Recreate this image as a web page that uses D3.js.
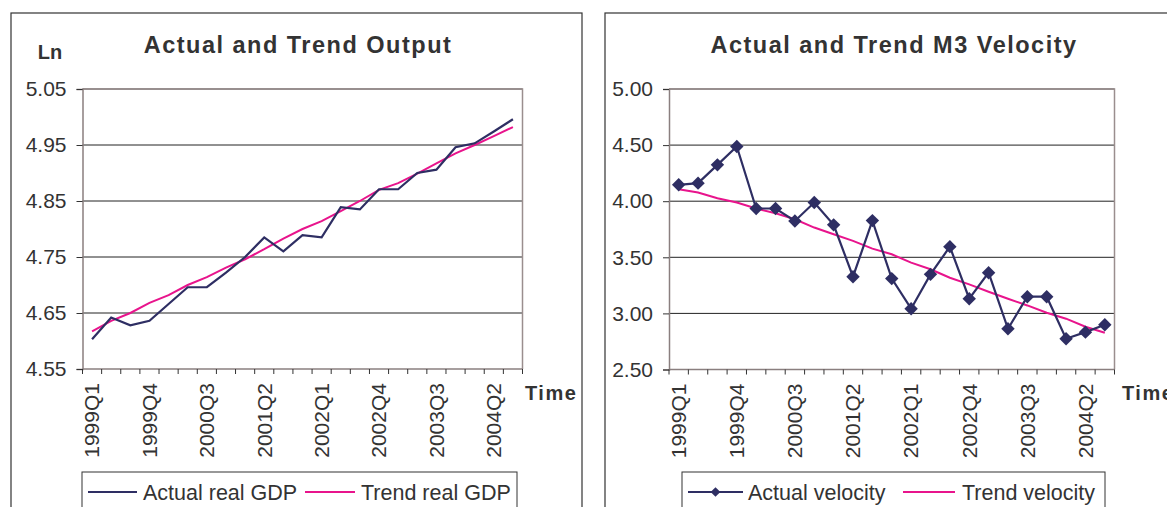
<!DOCTYPE html>
<html>
<head>
<meta charset="utf-8">
<script src="https://cdn.jsdelivr.net/npm/d3@7"></script>
<style>
  html, body { margin: 0; padding: 0; background: #fff; }
  svg { display: block; font-family: "Liberation Sans", Arial, sans-serif; }
</style>
</head>
<body>
<svg id="chart" width="1167" height="507"></svg>
<script>
// ---------- DATA ----------
const quarters = [
  "1999Q1","1999Q2","1999Q3","1999Q4",
  "2000Q1","2000Q2","2000Q3","2000Q4",
  "2001Q1","2001Q2","2001Q3","2001Q4",
  "2002Q1","2002Q2","2002Q3","2002Q4",
  "2003Q1","2003Q2","2003Q3","2003Q4",
  "2004Q1","2004Q2","2004Q3"
];
const tickLabels = ["1999Q1","1999Q4","2000Q3","2001Q2","2002Q1","2002Q4","2003Q3","2004Q2"];

const gdpActual = [4.603,4.642,4.628,4.636,4.666,4.696,4.696,4.722,4.750,4.785,4.760,4.789,
                   4.785,4.839,4.835,4.871,4.871,4.900,4.906,4.946,4.953,4.974,4.996];
const gdpTrend  = [4.617,4.636,4.650,4.668,4.682,4.700,4.714,4.731,4.746,4.764,4.783,4.800,
                   4.814,4.832,4.850,4.870,4.882,4.899,4.917,4.935,4.950,4.966,4.982];
const gdpTicks  = [4.55,4.65,4.75,4.85,4.95,5.05];

const velActual = [4.146,4.161,4.324,4.488,3.935,3.935,3.824,3.988,3.789,3.327,3.827,3.310,
                   3.042,3.348,3.595,3.131,3.363,2.863,3.149,3.149,2.774,2.833,2.899];
const velTrend  = [4.107,4.077,4.027,3.988,3.935,3.893,3.839,3.765,3.705,3.646,3.577,3.527,
                   3.452,3.393,3.318,3.259,3.193,3.131,3.071,3.006,2.953,2.881,2.828];
const velTicks  = [2.5,3.0,3.5,4.0,4.5,5.0];

// ---------- STYLE ----------
const NAVY = "#2e2e63";
const PINK = "#e8148c";
const TEXT = "#333";

const svg = d3.select("#chart");

function drawChart(cfg) {
  const g = svg.append("g");

  // outer chart border
  g.append("rect")
    .attr("x", cfg.box[0]).attr("y", cfg.box[1])
    .attr("width", cfg.box[2]).attr("height", cfg.box[3])
    .attr("fill", "none").attr("stroke", "#333").attr("stroke-width", 1.2);

  const x = d3.scaleBand().domain(quarters).range([cfg.left, cfg.right]).padding(0);
  const y = d3.scaleLinear().domain([cfg.ticks[0], cfg.ticks[cfg.ticks.length - 1]])
              .range([cfg.bottom, cfg.top]);

  // title
  g.append("text")
    .attr("x", cfg.titleX).attr("y", 53)
    .attr("text-anchor", "middle")
    .attr("font-size", 23.5).attr("font-weight", "bold")
    .attr("letter-spacing", 1.5)
    .attr("fill", TEXT)
    .text(cfg.title);

  if (cfg.yLabel) {
    g.append("text")
      .attr("x", cfg.yLabelX).attr("y", 59)
      .attr("text-anchor", "middle")
      .attr("font-size", 20).attr("font-weight", "bold")
      .attr("fill", TEXT)
      .text(cfg.yLabel);
  }

  // gridlines
  g.append("g").selectAll("line")
    .data(cfg.ticks.slice(1))
    .join("line")
    .attr("x1", cfg.left).attr("x2", cfg.right)
    .attr("y1", d => y(d)).attr("y2", d => y(d))
    .attr("stroke", "#222").attr("stroke-width", 1);

  // plot-area border (top + right)
  g.append("path")
    .attr("d", `M${cfg.left},${cfg.top}H${cfg.right}V${cfg.bottom}`)
    .attr("fill", "none").attr("stroke", "#9a8e8e").attr("stroke-width", 1.5);

  // y axis
  const yAxis = d3.axisLeft(y).tickValues(cfg.ticks)
    .tickFormat(d3.format(".2f")).tickSize(6).tickPadding(10);
  const ya = g.append("g").attr("transform", `translate(${cfg.left},0)`).call(yAxis);
  ya.select(".domain").attr("stroke", "#8a7f7f").attr("stroke-width", 1.5);
  ya.selectAll(".tick line").attr("stroke", "#333");
  ya.selectAll(".tick text").attr("font-size", 21).attr("fill", TEXT)
    .attr("font-family", "Liberation Sans, Arial, sans-serif");

  // x axis (ticks at category boundaries)
  const xa = g.append("g");
  xa.append("line")
    .attr("x1", cfg.left).attr("x2", cfg.right)
    .attr("y1", cfg.bottom).attr("y2", cfg.bottom)
    .attr("stroke", "#8a7f7f").attr("stroke-width", 1.5);
  const bounds = quarters.map(q => x(q)).concat([cfg.right]);
  xa.selectAll("line.tk").data(bounds).join("line").attr("class", "tk")
    .attr("x1", d => d).attr("x2", d => d)
    .attr("y1", cfg.bottom).attr("y2", cfg.bottom + 5)
    .attr("stroke", "#333").attr("stroke-width", 1);
  xa.selectAll("text").data(tickLabels).join("text")
    .attr("transform", d => `translate(${x(d) + x.bandwidth() / 2},${cfg.bottom + 14}) rotate(-90)`)
    .attr("text-anchor", "end").attr("dy", "0.35em")
    .attr("font-size", 21).attr("fill", TEXT)
    .text(d => d);

  // "Time"
  g.append("text")
    .attr("x", cfg.timeX).attr("y", 400)
    .attr("font-size", 20).attr("font-weight", "bold")
    .attr("letter-spacing", 1.5)
    .attr("fill", TEXT)
    .text("Time");

  const line = d3.line()
    .x((d, i) => x(quarters[i]) + x.bandwidth() / 2)
    .y(d => y(d));

  // trend
  g.append("path").datum(cfg.trend)
    .attr("d", line).attr("fill", "none")
    .attr("stroke", PINK).attr("stroke-width", 2);
  // actual
  g.append("path").datum(cfg.actual)
    .attr("d", line).attr("fill", "none")
    .attr("stroke", NAVY).attr("stroke-width", 2.2);

  const diamond = d3.symbol().type(d3.symbolDiamond2);
  if (cfg.markers) {
    g.append("g").selectAll("path")
      .data(cfg.actual).join("path")
      .attr("transform", (d, i) => `translate(${x(quarters[i]) + x.bandwidth() / 2},${y(d)})`)
      .attr("d", diamond.size(115))
      .attr("fill", NAVY);
  }

  // legend
  const L = cfg.legend;
  g.append("rect")
    .attr("x", L.x).attr("y", 472).attr("width", L.w).attr("height", 42)
    .attr("fill", "#fff").attr("stroke", "#333").attr("stroke-width", 1);
  const ly = 492;
  g.append("line").attr("x1", L.l1[0]).attr("x2", L.l1[1]).attr("y1", ly).attr("y2", ly)
    .attr("stroke", NAVY).attr("stroke-width", 2);
  if (cfg.markers) {
    g.append("path").attr("transform", `translate(${(L.l1[0] + L.l1[1]) / 2},${ly})`)
      .attr("d", diamond.size(60)).attr("fill", NAVY);
  }
  g.append("text").attr("x", L.t1).attr("y", ly).attr("dy", "0.35em")
    .attr("font-size", 21.5).attr("fill", TEXT).text(cfg.names[0]);
  g.append("line").attr("x1", L.l2[0]).attr("x2", L.l2[1]).attr("y1", ly).attr("y2", ly)
    .attr("stroke", PINK).attr("stroke-width", 2);
  g.append("text").attr("x", L.t2).attr("y", ly).attr("dy", "0.35em")
    .attr("font-size", 21.5).attr("fill", TEXT).text(cfg.names[1]);
}

drawChart({
  box: [11, 13, 571, 520],
  left: 82.5, right: 522.5, top: 89, bottom: 369,
  ticks: gdpTicks, actual: gdpActual, trend: gdpTrend,
  title: "Actual and Trend Output", titleX: 298,
  yLabel: "Ln", yLabelX: 50,
  timeX: 525, markers: false,
  names: ["Actual real GDP", "Trend real GDP"],
  legend: { x: 82, w: 435, l1: [88, 137], t1: 143, l2: [305, 355], t2: 361 }
});

drawChart({
  box: [605, 13, 600, 520],
  left: 669, right: 1114.5, top: 89, bottom: 369.5,
  ticks: velTicks, actual: velActual, trend: velTrend,
  title: "Actual and Trend M3 Velocity", titleX: 894,
  yLabel: null,
  timeX: 1122, markers: true,
  names: ["Actual velocity", "Trend velocity"],
  legend: { x: 682, w: 423, l1: [688, 743], t1: 748, l2: [903, 955], t2: 962 }
});
</script>
</body>
</html>
